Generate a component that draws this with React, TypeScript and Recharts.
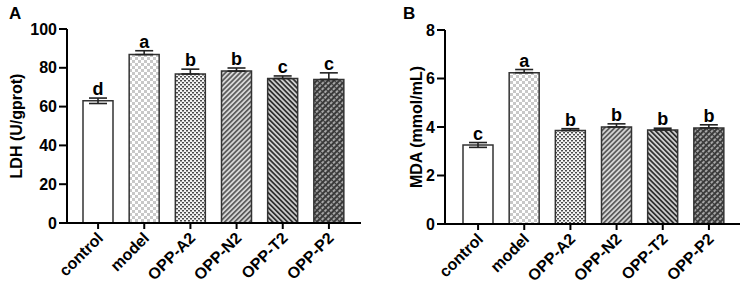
import React from 'react';
import { ComposedChart, Bar, Line, XAxis, YAxis, ErrorBar, LabelList, Cell } from 'recharts';

const groups = ['control', 'model', 'OPP-A2', 'OPP-N2', 'OPP-T2', 'OPP-P2'];

const ldhMean = [63, 86.8, 76.8, 78.3, 74.5, 74];
const ldhSd = [1.4, 2, 2.5, 1.6, 1.3, 3.4];
const ldhLetters = ['d', 'a', 'b', 'b', 'c', 'c'];
const ldhTicks = [0, 20, 40, 60, 80, 100];

const mdaMean = [3.26, 6.24, 3.86, 4.0, 3.88, 3.96];
const mdaSd = [0.1, 0.13, 0.07, 0.13, 0.07, 0.13];
const mdaLetters = ['c', 'a', 'b', 'b', 'b', 'b'];
const mdaTicks = [0, 2, 4, 6, 8];

const patternKeys = ['plain', 'checker', 'dots', 'fwd', 'back', 'hatch'];

const FONT = 'Liberation Sans, Arial, sans-serif';

function buildRows(mean: number[], sd: number[], letters: string[]) {
  return groups.map((g, i) => ({
    group: g,
    value: mean[i],
    // lower whisker only shows through the open control bar
    err: i === 0 ? [sd[i], sd[i]] : [0, sd[i]],
    top: mean[i] + sd[i],
    letter: letters[i],
  }));
}

function Patterns({ prefix }: { prefix: string }) {
  return (
    <defs>
      <pattern id={`${prefix}-checker`} patternUnits="userSpaceOnUse" width="6" height="6">
        <rect width="6" height="6" fill="#ffffff" />
        <rect x="0" y="0" width="3" height="3" fill="#c8c8c8" />
        <rect x="3" y="3" width="3" height="3" fill="#c8c8c8" />
      </pattern>
      <pattern id={`${prefix}-dots`} patternUnits="userSpaceOnUse" width="4" height="4">
        <rect width="4" height="4" fill="#f4f4f4" />
        <rect x="0" y="0" width="2" height="1.5" fill="#4a4a4a" />
        <rect x="2" y="2" width="2" height="1.5" fill="#4a4a4a" />
      </pattern>
      <pattern id={`${prefix}-fwd`} patternUnits="userSpaceOnUse" width="3.5" height="3.5" patternTransform="rotate(45)">
        <rect width="3.5" height="3.5" fill="#d6d6d6" />
        <rect x="0" y="0" width="1.7" height="3.5" fill="#5a5a5a" />
      </pattern>
      <pattern id={`${prefix}-back`} patternUnits="userSpaceOnUse" width="3.5" height="3.5" patternTransform="rotate(-45)">
        <rect width="3.5" height="3.5" fill="#cfcfcf" />
        <rect x="0" y="0" width="1.7" height="3.5" fill="#2e2e2e" />
      </pattern>
      <pattern id={`${prefix}-hatch`} patternUnits="userSpaceOnUse" width="4" height="4" patternTransform="rotate(45)">
        <rect width="4" height="4" fill="#a8a8a8" />
        <rect x="0" y="0" width="2" height="4" fill="#3a3a3a" />
        <rect x="0" y="0" width="4" height="1.2" fill="#3a3a3a" />
      </pattern>
    </defs>
  );
}

function fillFor(prefix: string, key: string) {
  return key === 'plain' ? '#ffffff' : `url(#${prefix}-${key})`;
}

function GroupTick(props: any) {
  const { x, y, payload } = props;
  return (
    <g transform={`translate(${x + 6},${y + 8}) rotate(-45)`}>
      <text x={0} y={0} textAnchor="end" fontFamily={FONT} fontWeight="bold" fontSize={16} fill="#000">
        {payload.value}
      </text>
    </g>
  );
}

function AxisTitle(props: any) {
  const { viewBox, text, dx } = props;
  const cx = viewBox.x + dx;
  const cy = viewBox.y + viewBox.height / 2;
  return (
    <text
      x={cx}
      y={cy}
      transform={`rotate(-90, ${cx}, ${cy})`}
      textAnchor="middle"
      dominantBaseline="central"
      fontFamily={FONT}
      fontWeight="bold"
      fontSize={16}
      fill="#000"
    >
      {text}
    </text>
  );
}

type PanelProps = {
  prefix: string;
  width: number;
  mean: number[];
  sd: number[];
  letters: string[];
  ticks: number[];
  title: string;
  yWidth: number;
  xHeight: number;
  margin: { top: number; right: number; bottom: number; left: number };
  padding: { left: number; right: number };
  titleDx: number;
};

function Panel(p: PanelProps) {
  const rows = buildRows(p.mean, p.sd, p.letters);
  return (
    <ComposedChart width={p.width} height={293} data={rows} margin={p.margin}>
      <Patterns prefix={p.prefix} />
      <XAxis
        dataKey="group"
        interval={0}
        height={p.xHeight}
        padding={p.padding}
        tickSize={6}
        axisLine={{ stroke: '#000', strokeWidth: 2 }}
        tickLine={{ stroke: '#000', strokeWidth: 2 }}
        tick={<GroupTick />}
      />
      <YAxis
        domain={[p.ticks[0], p.ticks[p.ticks.length - 1]]}
        ticks={p.ticks}
        width={p.yWidth}
        tickSize={8}
        tickMargin={2}
        axisLine={{ stroke: '#000', strokeWidth: 2 }}
        tickLine={{ stroke: '#000', strokeWidth: 2 }}
        tick={{ fontFamily: FONT, fontWeight: 'bold', fontSize: 16, fill: '#000' }}
        label={{ content: (lp: any) => <AxisTitle {...lp} text={p.title} dx={p.titleDx} /> }}
      />
      <Bar dataKey="value" barSize={30} stroke="#333" strokeWidth={1.5} isAnimationActive={false}>
        {rows.map((r, i) => (
          <Cell key={r.group} fill={fillFor(p.prefix, patternKeys[i])} />
        ))}
        <ErrorBar dataKey="err" width={9} stroke="#222" strokeWidth={1.6} direction="y" />
      </Bar>
      <Line dataKey="top" stroke="none" dot={false} activeDot={false} isAnimationActive={false}>
        <LabelList
          dataKey="letter"
          position="top"
          offset={3}
          fontFamily={FONT}
          fontWeight="bold"
          fontSize={18}
          fill="#000"
        />
      </Line>
    </ComposedChart>
  );
}

export default function App() {
  return (
    <div style={{ position: 'absolute', left: 0, top: 0, width: 749, height: 293, background: '#fff' }}>
      <div style={{ position: 'absolute', left: 0, top: 0 }}>
        <Panel
          prefix="ldh"
          width={375}
          mean={ldhMean}
          sd={ldhSd}
          letters={ldhLetters}
          ticks={ldhTicks}
          title="LDH (U/gprot)"
          yWidth={67}
          xHeight={70}
          margin={{ top: 29, right: 14, bottom: 0, left: 0 }}
          padding={{ left: 8, right: 9 }}
          titleDx={16}
        />
      </div>
      <div style={{ position: 'absolute', left: 375, top: 0 }}>
        <Panel
          prefix="mda"
          width={374}
          mean={mdaMean}
          sd={mdaSd}
          letters={mdaLetters}
          ticks={mdaTicks}
          title="MDA (mmol/mL)"
          yWidth={70}
          xHeight={69}
          margin={{ top: 30, right: 9, bottom: 0, left: 0 }}
          padding={{ left: 10, right: 8 }}
          titleDx={41}
        />
      </div>
      <svg width={749} height={293} style={{ position: 'absolute', left: 0, top: 0, pointerEvents: 'none' }}>
        <text x={9} y={19} fontFamily={FONT} fontWeight="bold" fontSize={17} fill="#000">A</text>
        <text x={403} y={19} fontFamily={FONT} fontWeight="bold" fontSize={17} fill="#000">B</text>
      </svg>
    </div>
  );
}
